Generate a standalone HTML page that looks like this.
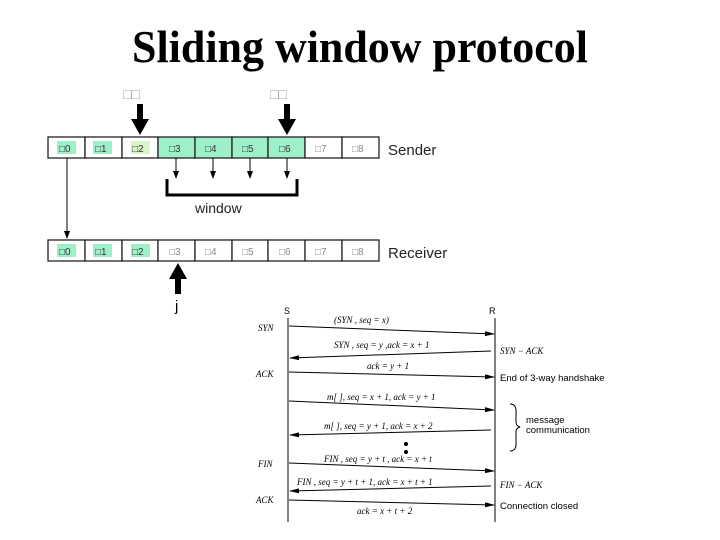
<!DOCTYPE html>
<html><head><meta charset="utf-8"><style>html,body{margin:0;padding:0;background:#fff}svg{display:block}</style></head>
<body>
<svg width="720" height="540" viewBox="0 0 720 540" xmlns="http://www.w3.org/2000/svg">
<defs>
<marker id="ah" markerWidth="8" markerHeight="6" refX="7" refY="3" orient="auto" markerUnits="userSpaceOnUse"><path d="M0,0 L8,3 L0,6 z" fill="#000"/></marker>
<marker id="sa" markerWidth="10" markerHeight="5" refX="9" refY="2.5" orient="auto" markerUnits="userSpaceOnUse"><path d="M0,0 L10,2.5 L0,5 z" fill="#000"/></marker>
</defs>
<text x="132" y="62" font-family="Liberation Serif, serif" font-weight="bold" font-size="46" textLength="456" lengthAdjust="spacingAndGlyphs">Sliding window protocol</text>

<g font-family="Liberation Sans, sans-serif">
<g stroke="#222" stroke-width="1.3">
<rect x="48" y="137" width="37" height="21" fill="#fff"/>
<rect x="85" y="137" width="37" height="21" fill="#fff"/>
<rect x="122" y="137" width="36" height="21" fill="#fff"/>
<rect x="158" y="137" width="37" height="21" fill="#9ef0c8"/>
<rect x="195" y="137" width="37" height="21" fill="#9ef0c8"/>
<rect x="232" y="137" width="36" height="21" fill="#9ef0c8"/>
<rect x="268" y="137" width="37" height="21" fill="#9ef0c8"/>
<rect x="305" y="137" width="37" height="21" fill="#fff"/>
<rect x="342" y="137" width="37" height="21" fill="#fff"/>
</g>
<rect x="57" y="141" width="19" height="13" fill="#9ef0c8"/>
<rect x="93" y="141" width="19" height="13" fill="#9ef0c8"/>
<rect x="131" y="141" width="19" height="13" fill="#d8f5c8"/>
<g stroke="#222" stroke-width="1.3">
<rect x="48" y="240" width="37" height="21" fill="#fff"/>
<rect x="85" y="240" width="37" height="21" fill="#fff"/>
<rect x="122" y="240" width="36" height="21" fill="#fff"/>
<rect x="158" y="240" width="37" height="21" fill="#fff"/>
<rect x="195" y="240" width="37" height="21" fill="#fff"/>
<rect x="232" y="240" width="36" height="21" fill="#fff"/>
<rect x="268" y="240" width="37" height="21" fill="#fff"/>
<rect x="305" y="240" width="37" height="21" fill="#fff"/>
<rect x="342" y="240" width="37" height="21" fill="#fff"/>
</g>
<rect x="57" y="244" width="19" height="13" fill="#9ef0c8"/>
<rect x="93" y="244" width="19" height="13" fill="#9ef0c8"/>
<rect x="131" y="244" width="19" height="13" fill="#9ef0c8"/>
<g font-size="10" fill="#333">
<text x="59" y="152">□0</text><text x="95" y="152">□1</text><text x="132" y="152">□2</text><text x="169" y="152">□3</text><text x="205" y="152">□4</text><text x="242" y="152">□5</text><text x="279" y="152">□6</text><text x="315" y="152" fill="#888">□7</text><text x="352" y="152" fill="#888">□8</text>
<text x="59" y="255">□0</text><text x="95" y="255">□1</text><text x="132" y="255">□2</text><text x="169" y="255" fill="#888">□3</text><text x="205" y="255" fill="#888">□4</text><text x="242" y="255" fill="#888">□5</text><text x="279" y="255" fill="#888">□6</text><text x="315" y="255" fill="#888">□7</text><text x="352" y="255" fill="#888">□8</text>
</g>
<text x="388" y="155" font-size="15" fill="#222">Sender</text>
<text x="388" y="258" font-size="15" fill="#222">Receiver</text>
<text x="123" y="99" font-size="14" fill="#aaa">□□</text>
<text x="270" y="99" font-size="14" fill="#aaa">□□</text>
<rect x="137" y="104" width="6" height="16" fill="#000"/><path d="M131,119 L149,119 L140,135 z" fill="#000"/>
<rect x="284" y="104" width="6" height="16" fill="#000"/><path d="M278,119 L296,119 L287,135 z" fill="#000"/>
<path d="M169,279 L187,279 L178,263 z" fill="#000"/><rect x="175" y="278" width="6" height="16" fill="#000"/>
<text x="175" y="311" font-size="15">j</text>
<g stroke="#000" stroke-width="1">
<line x1="176" y1="158" x2="176" y2="178" marker-end="url(#ah)"/>
<line x1="213" y1="158" x2="213" y2="178" marker-end="url(#ah)"/>
<line x1="250" y1="158" x2="250" y2="178" marker-end="url(#ah)"/>
<line x1="287" y1="158" x2="287" y2="178" marker-end="url(#ah)"/>
<line x1="67" y1="158" x2="67" y2="238" marker-end="url(#ah)"/>
</g>
<path d="M167,179 L167,195 L297,195 L297,179" fill="none" stroke="#000" stroke-width="3"/>
<text x="195" y="213" font-size="14" fill="#222">window</text>

<text x="284" y="314" font-size="9">S</text><text x="489" y="314" font-size="9">R</text>
<line x1="288" y1="318" x2="288" y2="522" stroke="#000"/>
<line x1="495" y1="318" x2="495" y2="522" stroke="#000"/>
<g stroke="#000" stroke-width="1">
<line x1="289" y1="326" x2="494" y2="334" marker-end="url(#sa)"/>
<line x1="491" y1="351" x2="290" y2="358" marker-end="url(#sa)"/>
<line x1="289" y1="372" x2="494" y2="377" marker-end="url(#sa)"/>
<line x1="289" y1="401" x2="494" y2="410" marker-end="url(#sa)"/>
<line x1="491" y1="430" x2="290" y2="435" marker-end="url(#sa)"/>
<line x1="289" y1="463" x2="494" y2="471" marker-end="url(#sa)"/>
<line x1="491" y1="486" x2="290" y2="491" marker-end="url(#sa)"/>
<line x1="289" y1="500" x2="494" y2="505" marker-end="url(#sa)"/>
</g>
<g font-family="Liberation Serif, serif" font-style="italic" font-size="9">
<text x="258" y="331">SYN</text><text x="256" y="377">ACK</text><text x="258" y="467">FIN</text><text x="256" y="503">ACK</text>
<text x="334" y="323">(SYN , seq = x)</text>
<text x="334" y="348">SYN , seq = y ,ack = x + 1</text>
<text x="367" y="369">ack = y + 1</text>
<text x="327" y="400">m[ ], seq = x + 1, ack = y + 1</text>
<text x="324" y="429">m[ ], seq = y + 1, ack = x + 2</text>
<text x="324" y="462">FIN , seq = y + t , ack = x + t</text>
<text x="297" y="485">FIN , seq = y + t + 1, ack = x + t + 1</text>
<text x="357" y="514">ack = x + t + 2</text>
<text x="500" y="354">SYN − ACK</text>
<text x="500" y="488">FIN − ACK</text>
</g>
<text x="500" y="381" font-size="9.5">End of 3-way handshake</text>
<text x="500" y="509" font-size="9.5">Connection closed</text>
<text x="526" y="423" font-size="9.5">message</text>
<text x="526" y="433" font-size="9.5">communication</text>
<path d="M510,404 Q517,404 516,414 L516,422 Q516,426 520,427 Q516,428 516,432 L516,441 Q517,451 510,451" fill="none" stroke="#000"/>
<circle cx="406" cy="444" r="2" fill="#000"/><circle cx="406" cy="452" r="2" fill="#000"/>
</g>
</svg>
</body></html>
